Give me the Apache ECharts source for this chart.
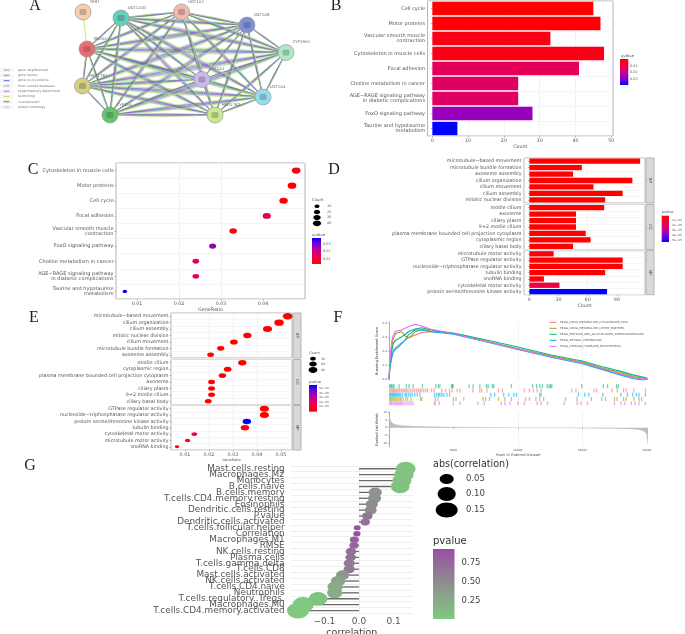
<!DOCTYPE html>
<html>
<head>
<meta charset="utf-8">
<style>
html,body{margin:0;padding:0;background:#fff}
#chart{width:685px;height:634px;filter:blur(0.7px)}
</style>
<script src="https://cdn.jsdelivr.net/npm/echarts@6/dist/echarts.min.js"></script>
</head>
<body>
<div id="chart"></div>
<script>
// ---------- Panel A: interaction network ----------
const nodeNames = ['TERT','UGT1A10','UGT1A7','UGT1A8','CYP19A1','UGT1A4','UGT1A1','HSD17B2','CYP3A4','HSD17B1','SRD5A1'];
const nodeX = [83,121,181.5,247,286,263,202,215,110,82.5,87];
const nodeY = [12,18,12,25,52.5,97,79.5,115,115,86,49];
const nodeColors = ['#f6cfae','#62d0ba','#f3b8b0','#7f8fd8','#aeeac8','#93deee','#cbb8ee','#c8ea8c','#62c46c','#d5d07e','#ef6b72'];
const evidenceNames = ['gene neighborhood','gene fusions','gene co-occurrence','from curated databases','experimentally determined','textmining','co-expression','protein homology'];
const evidenceLegendColors = ['#3cb44b','#e5484d','#4a4ae0','#38bcd4','#c040c0','#b8d84a','#555555','#a9a4e8'];
const edgeColors = ['#c4e07a','#8ad88a','#4a4ae0','#8a8a8a','#c040c0','#7a70e0','#5cc4a0','#c4e07a'];
const edgeBends = [-0.032,-0.023,-0.014,-0.005,0.005,0.014,0.023,0.032];

// ---------- Panel B / C: KEGG ----------
const bTerms = ['Cell cycle','Motor proteins','Vascular smooth muscle\ncontraction','Cytoskeleton in muscle cells','Focal adhesion','Choline metabolism in cancer','AGE−RAGE signaling pathway\nin diabetic complications','FoxO signaling pathway','Taurine and hypotaurine\nmetabolism'];
const bCounts = [45,47,33,48,41,24,24,28,7];
const bQ = [0.0005,0.001,0.003,0.003,0.012,0.013,0.013,0.023,0.034];
const bTicks = [0,10,20,30,40,50];

const cTerms = ['Cytoskeleton in muscle cells','Motor proteins','Cell cycle','Focal adhesion','Vascular smooth muscle\ncontraction','FoxO signaling pathway','Choline metabolism in cancer','AGE−RAGE signaling pathway\nin diabetic complications','Taurine and hypotaurine\nmetabolism'];
const cRatio = [0.0479,0.0469,0.0449,0.0409,0.0329,0.028,0.024,0.024,0.0071];
const cCount = [48,47,45,41,33,28,24,24,7];
const cQ = [0.003,0.001,0.0005,0.012,0.003,0.023,0.013,0.013,0.034];
const cTicks = [0.01,0.02,0.03,0.04];

// ---------- Panel D: GO bars ----------
const dTermsBP = ['microtubule−based movement','microtubule bundle formation','axoneme assembly','cilium organization','cilium movement','cilium assembly','mitotic nuclear division'];
const dCountBP = [114,54,45,106,66,96,78];
const dPBP = [1e-7,1e-7,1e-7,1e-7,1e-7,1e-7,1e-7];
const dTermsCC = ['motile cilium','axoneme','ciliary plasm','9+2 motile cilium','plasma membrane bounded cell projection cytoplasm','cytoplasmic region','ciliary basal body'];
const dCountCC = [77,48,48,48,58,63,45];
const dPCC = [1e-7,1e-7,1e-7,1e-7,1e-7,1e-7,1e-7];
const dTermsMF = ['microtubule motor activity','GTPase regulator activity','nucleoside−triphosphatase regulator activity','tubulin binding','snoRNA binding','cytoskeletal motor activity','protein serine/threonine kinase activity'];
const dCountMF = [25,96,96,78,15,31,80];
const dPMF = [2e-6,1e-7,1e-7,1e-7,2e-6,1.2e-5,5e-5];
const dTicks = [0,30,60,90];

// ---------- Panel E: GO dots ----------
const eTermsBP = ['microtubule−based movement','cilium organization','cilium assembly','mitotic nuclear division','cilium movement','microtubule bundle formation','axoneme assembly'];
const eRatioBP = [0.0528,0.0492,0.0444,0.036,0.0304,0.0249,0.0207];
const eCountBP = [114,106,96,78,66,54,45];
const ePBP = [1e-7,1e-7,1e-7,1e-7,1e-7,1e-7,1e-7];
const eTermsCC = ['motile cilium','cytoplasmic region','plasma membrane bounded cell projection cytoplasm','axoneme','ciliary plasm','9+2 motile cilium','ciliary basal body'];
const eRatioCC = [0.0339,0.0278,0.0256,0.0211,0.0211,0.0211,0.0197];
const eCountCC = [77,63,58,48,48,48,45];
const ePCC = [1e-7,1e-7,1e-7,1e-7,1e-7,1e-7,1e-7];
const eTermsMF = ['GTPase regulator activity','nucleoside−triphosphatase regulator activity','protein serine/threonine kinase activity','tubulin binding','cytoskeletal motor activity','microtubule motor activity','snoRNA binding'];
const eRatioMF = [0.0431,0.0431,0.0358,0.035,0.0139,0.0111,0.0067];
const eCountMF = [96,96,80,78,31,25,15];
const ePMF = [1e-7,1e-7,5e-5,1e-7,1.2e-5,2e-6,2e-6];
const eTicks = [0.01,0.02,0.03,0.04,0.05];

// ---------- Panel F: GSEA ----------
const fNames = ['KEGG_DRUG_METABOLISM_CYTOCHROME_P450','KEGG_DRUG_METABOLISM_OTHER_ENZYMES','KEGG_PENTOSE_AND_GLUCURONATE_INTERCONVERSIONS','KEGG_RETINOL_METABOLISM','KEGG_STEROID_HORMONE_BIOSYNTHESIS'];
const fColors = ['#F8766D','#A3A500','#00BF7D','#00B0F6','#E76BF3'];
const fRanks = [0,60,130,210,336,520,750,985,1250,1500,1760,2020,2540,3190,3830,5000,7500,10000,12500,15000,16500,18000,19000,19800,20100];
const fRed = [0,.07,.12,.16,.208,.225,.244,.262,.28,.297,.305,.316,.335,.34,.34,.325,.272,.216,.163,.116,.074,.036,.01,.004,.003];
const fOlive = [0,.09,.15,.23,.292,.328,.335,.34,.31,.297,.312,.34,.357,.347,.34,.327,.274,.22,.167,.122,.08,.045,.018,.003,.003];
const fGreen = [0,.08,.14,.2,.256,.28,.29,.304,.32,.34,.35,.359,.369,.354,.345,.33,.282,.23,.175,.13,.09,.055,.028,.012,.003];
const fBlue = [0,.07,.11,.15,.196,.215,.232,.255,.28,.316,.335,.352,.352,.34,.335,.323,.268,.212,.158,.11,.068,.028,.002,-.008,.003];
const fPurple = [0,.12,.2,.27,.316,.345,.348,.352,.365,.376,.385,.393,.381,.359,.347,.325,.27,.215,.162,.115,.075,.035,.01,.002,.003];
const rugRed = [60,150,240,330,420,520,610,700,820,950,1080,1180,1300,1420,1560,1700,1850,2000,2150,2300,2420,2560,2700,2850,3000,3300,3500,4100,4400,4700,4900,5300,5500,6500,7050,7200,7600,8500,8800,10500,10900,11200,11500,11800,14200,14500,15900,16100,17300,17700,18200,18400,19000,19900];
const rugOlive = [50,130,220,300,400,500,600,720,850,950,1100,1300,1450,1700,2450,2550,3600,3800,5000,5200,5800,7300,7500,7800,8500,9000,9500,10600,10900,11400,11700,12000,13700,14600,15700,16500,16800,17500,17700,18200,18400,19000,19400,19600];
const rugGreen = [50,130,210,310,390,780,1350,1550,1870,2590,3630,3830,3950,4850,4920,4970,6220,6530,7050,7560,7690,8030,8130,9500,11140,11450,11710,11910,12280,12430,12540,12640,14950,16630,16960,17660,17790];
const rugBlue = [50,120,200,280,370,440,530,620,700,800,900,1050,1250,1350,1500,1650,1800,2000,2200,2400,3550,3700,3850,3950,4100,4250,4500,4700,7900,8200,8900,9300,9700,9900,11700,11800,14700,15200,15500,16600,18000,18500,18900,19200,19400,19900];
const rugPurple = [60,140,220,320,420,520,600,700,800,900,1000,1100,1250,1400,1550,1700,1850,3500,3600,3900,5000,5500,6900,7400,8700,9000,9400,10000,10500,11500,11800,12300,13600,14600,14900,15400,17500,18000,18300,18800,19100,19400,19900];
const listRanks = [0,40,100,200,300,500,1000,2000,3000,6000,10000,15000,18000,19000,19500,19800,20000,20100];
const listValues = [10.4,7,5,3.2,2.5,1.9,1.3,0.8,0.6,0.2,0.02,-0.2,-0.5,-0.9,-1.3,-2.2,-4,-11];
const fTicks = [5000,10000,15000,20000];
const fScoreTicks = [0,0.1,0.2,0.3,0.4];
const fListTicks = [-10,-5,0,5,10];

// ---------- Panel G: immune correlation ----------
const gCells = ['Mast.cells.resting','Macrophages.M2','Monocytes','B.cells.naive','B.cells.memory','T.cells.CD4.memory.resting','Eosinophils','Dendritic.cells.resting','P.value','Dendritic.cells.activated','T.cells.follicular.helper','Correlation','Macrophages.M1','RMSE','NK.cells.resting','Plasma.cells','T.cells.gamma.delta','T.cells.CD8','Mast.cells.activated','NK.cells.activated','T.cells.CD4.naive','Neutrophils','T.cells.regulatory..Tregs.','Macrophages.M0','T.cells.CD4.memory.activated'];
const gCorr = [0.135,0.13,0.124,0.119,0.047,0.045,0.037,0.034,0.024,0.018,-0.005,-0.006,-0.0135,-0.0145,-0.023,-0.024,-0.028,-0.028,-0.047,-0.06,-0.069,-0.07,-0.118,-0.161,-0.176];
const gP = [0.03,0.04,0.05,0.06,0.45,0.47,0.53,0.55,0.7,0.75,0.97,0.96,0.85,0.84,0.75,0.74,0.67,0.66,0.45,0.33,0.26,0.25,0.06,0.01,0.005];
const gTicks = [-0.1,0,0.1];

// ---------- helpers ----------
const FONT = '"DejaVu Sans"';
const GREY = '#555';
const redBlue = ['#ff0000','#f60030','#e60055','#c80090','#9a00b8','#6000e0','#0000ff'];
const blueRed = redBlue.slice().reverse();
const grids=[], xAxes=[], yAxes=[], series=[], visualMaps=[], gfx=[];

function addGrid(l,t,r,b,show,border){
  grids.push({left:l,top:t,width:r-l,height:b-t,show:!!show,borderColor:border||'#b4b4b4',borderWidth:show?1:0,backgroundColor:'transparent',containLabel:false,outerBoundsMode:'none'});
  return grids.length-1;
}
function valueX(gi,min,max,ticks,o){
  o=o||{};
  xAxes.push(Object.assign({gridIndex:gi,type:'value',min:min,max:max,
    axisLine:{show:false},
    axisTick:{show:!o.hideLabels,length:1.5,lineStyle:{color:'#888',width:0.6},customValues:ticks},
    axisLabel:{show:!o.hideLabels,fontFamily:FONT,fontSize:o.fs||4.8,color:GREY,margin:o.margin||2.5,customValues:ticks,showMinLabel:true,showMaxLabel:true,
      formatter:o.fmt||(v=>String(v))},
    splitLine:{show:true,lineStyle:{color:'#ededed',width:0.7},customValues:ticks,showMinLine:false,showMaxLine:false},
    name:o.name||'',nameLocation:'middle',nameGap:o.nameGap||9,nameTextStyle:{fontFamily:FONT,fontSize:o.nameFs||4.8,color:GREY}
  },o.extra||{}));
  return xAxes.length-1;
}
function catY(gi,cats,o){
  o=o||{};
  yAxes.push({gridIndex:gi,type:'category',data:cats,inverse:true,
    axisLine:{show:false},
    axisTick:{show:!o.hideTick,alignWithLabel:true,length:1.5,lineStyle:{color:'#888',width:0.6}},
    axisLabel:{interval:0,fontFamily:FONT,fontSize:o.fs||4.8,color:o.color||GREY,margin:o.margin||2.5,lineHeight:o.lh||5.2},
    splitLine:{show:true,interval:0,lineStyle:{color:'#f1f1f1',width:0.7}}});
  return yAxes.length-1;
}
function txt(x,y,text,o){
  o=o||{};
  gfx.push({type:'text',x:x,y:y,rotation:o.rot||0,silent:true,z:50,
    style:{text:text,fill:o.color||GREY,fontSize:o.fs||4,fontFamily:o.family||FONT,align:o.align||'left',verticalAlign:'middle'}});
}
function colorBar(l,t,r,b,stops){
  gfx.push({type:'rect',shape:{x:l,y:t,width:r-l,height:b-t},silent:true,z:50,
    style:{fill:{type:'linear',x:0,y:0,x2:0,y2:1,colorStops:stops.map((c,i)=>({offset:i/(stops.length-1),color:c}))}}});
}
function dot(cx,cy,rx,ry,fill){
  gfx.push({type:'ellipse',shape:{cx:cx,cy:cy,rx:rx,ry:ry},silent:true,z:50,style:{fill:fill||'#000'}});
}
function strip(l,t,r,b,label){
  gfx.push({type:'rect',shape:{x:l,y:t,width:r-l,height:b-t},silent:true,z:40,style:{fill:'#d9d9d9',stroke:'#b4b4b4',lineWidth:1}});
  txt((l+r)/2,(t+b)/2,label,{rot:-Math.PI/2,align:'center',fs:4.2,color:'#444'});
}

// ---------- panel letters ----------
[['A',35,6],['B',336,6],['C',33,170],['D',334,170],['E',34,318],['F',338,318],['G',30,466]].forEach(p=>
  txt(p[1],p[2],p[0],{family:'"Liberation Serif"',fs:16,align:'center',color:'#222'}));

// ---------- A ----------
(function(){
  const gi=addGrid(0,0,340,160,false);
  xAxes.push({gridIndex:gi,type:'value',min:0,max:340,show:false});
  yAxes.push({gridIndex:gi,type:'value',min:0,max:160,inverse:true,show:false});
  const ax=xAxes.length-1, ay=yAxes.length-1;
  const links=[{source:0,target:10,lineStyle:{color:'#c6e07a',width:0.9,curveness:0,opacity:1}}];
  edgeColors.forEach((c,k)=>{
    for(let i=1;i<nodeNames.length;i++) for(let j=i+1;j<nodeNames.length;j++)
      links.push({source:i,target:j,lineStyle:{color:c,width:0.75,curveness:edgeBends[k],opacity:k===2?0.8:0.75}});
  });
  series.push({type:'graph',coordinateSystem:'cartesian2d',xAxisIndex:ax,yAxisIndex:ay,layout:'none',silent:true,z:2,
    symbol:'circle',symbolSize:16,edgeSymbol:['none','none'],
    data:nodeNames.map((n,i)=>({name:n,value:[nodeX[i],nodeY[i]],itemStyle:{color:nodeColors[i],borderColor:'#9a9a9a',borderWidth:0.7}})),
    links:links,
    label:{show:true,position:[15,-4],fontFamily:FONT,fontSize:3.9,color:'#666',formatter:'{b}'}});
  series.push({type:'scatter',xAxisIndex:ax,yAxisIndex:ay,silent:true,z:3,symbol:'roundRect',symbolSize:[7,6],
    itemStyle:{color:'rgba(60,60,60,0.28)',opacity:1},data:nodeX.map((x,i)=>[x,nodeY[i]])});
  evidenceNames.forEach((n,i)=>{
    const y=70+i*5.3;
    gfx.push({type:'rect',shape:{x:0,y:y-1.2,width:13,height:2.4,r:1.2},silent:true,z:50,style:{fill:'#fff',stroke:'#ddd',lineWidth:0.5}});
    gfx.push({type:'line',shape:{x1:3.5,y1:y,x2:9.5,y2:y},silent:true,z:51,style:{stroke:evidenceLegendColors[i],lineWidth:0.8}});
    txt(18,y,n,{fs:3.1,color:'#777'});
  });
})();

// ---------- B ----------
(function(){
  const gi=addGrid(427.5,1,613,136,true);
  const ax=valueX(gi,-1.35,50.5,bTicks,{name:'Count',nameGap:8.5});
  const ay=catY(gi,bTerms,{fs:5});
  series.push({type:'bar',xAxisIndex:ax,yAxisIndex:ay,barWidth:13.3,silent:true,encode:{x:0,y:1},
    data:bTerms.map((t,i)=>[bCounts[i],t,bQ[i]])});
  visualMaps.push({show:false,seriesIndex:series.length-1,dimension:2,min:0.0005,max:0.034,inRange:{color:redBlue}});
  txt(621,55.5,'qvalue',{fs:3.9});
  colorBar(620,59,628.3,85,redBlue);
  [['0.01',65.7],['0.02',72],['0.03',79.3]].forEach(a=>txt(630,a[1],a[0],{fs:3.4}));
})();

// ---------- C ----------
(function(){
  const gi=addGrid(116,163,305,299,true);
  const ax=valueX(gi,0.005,0.05,cTicks,{name:'GeneRatio',nameGap:6.5,fmt:v=>v.toFixed(2),extra:{}});
  const ay=catY(gi,cTerms,{fs:5});
  series.push({type:'scatter',xAxisIndex:ax,yAxisIndex:ay,silent:true,z:4,encode:{x:0,y:1},itemStyle:{opacity:1},
    symbolSize:v=>{const w=1.8+1.0*Math.sqrt(v[2]);return [w,w*0.72];},
    data:cTerms.map((t,i)=>[cRatio[i],t,cCount[i],cQ[i]])});
  visualMaps.push({show:false,seriesIndex:series.length-1,dimension:3,min:0.0005,max:0.034,inRange:{color:redBlue}});
  txt(312,200,'Count',{fs:3.9});
  [[206.3,10],[212,20],[217.5,30],[223.3,40]].forEach(a=>{const w=1.8+Math.sqrt(a[1]);dot(317,a[0],w/2,w*0.36);txt(327,a[0],String(a[1]),{fs:3.4});});
  txt(312,235,'qvalue',{fs:3.9});
  colorBar(312,238,321,264,blueRed);
  [['0.03',244],['0.02',251],['0.01',258.7]].forEach(a=>txt(323,a[1],a[0],{fs:3.4}));
})();

// ---------- D ----------
(function(){
  const rows=[[158,203,dTermsBP,dCountBP,dPBP,'BP'],[204.5,249.5,dTermsCC,dCountCC,dPCC,'CC'],[250.7,294.7,dTermsMF,dCountMF,dPMF,'MF']];
  const idx=[];
  rows.forEach((r,i)=>{
    const gi=addGrid(524,r[0],645,r[1],true);
    const ax=valueX(gi,-5.5,119,dTicks,i===2?{name:'Count',nameGap:8.5}:{hideLabels:true});
    const ay=catY(gi,r[2]);
    series.push({type:'bar',xAxisIndex:ax,yAxisIndex:ay,barWidth:5.3,silent:true,encode:{x:0,y:1},
      data:r[2].map((t,k)=>[r[3][k],t,r[4][k]])});
    idx.push(series.length-1);
    strip(646,r[0],654,r[1],r[5]);
  });
  visualMaps.push({show:false,seriesIndex:idx,dimension:2,min:0,max:5e-5,inRange:{color:redBlue}});
  txt(661.7,212,'pvalue',{fs:3.5});
  colorBar(661.7,215.7,669,242,redBlue);
  [['1e−05',220.7],['2e−05',225.6],['3e−05',230.7],['4e−05',235.3],['5e−05',240]].forEach(a=>txt(672,a[1],a[0],{fs:2.9}));
})();

// ---------- E ----------
(function(){
  const rows=[[313,358,eTermsBP,eRatioBP,eCountBP,ePBP,'BP'],[359.5,404.5,eTermsCC,eRatioCC,eCountCC,ePCC,'CC'],[405.5,450,eTermsMF,eRatioMF,eCountMF,ePMF,'MF']];
  const idx=[];
  rows.forEach((r,i)=>{
    const gi=addGrid(171,r[0],292,r[1],true);
    const ax=valueX(gi,0.0042,0.0546,eTicks,i===2?{name:'GeneRatio',nameGap:7,nameFs:3.5,fmt:v=>v.toFixed(2)}:{hideLabels:true});
    const ay=catY(gi,r[2]);
    series.push({type:'scatter',xAxisIndex:ax,yAxisIndex:ay,silent:true,z:4,encode:{x:0,y:1},itemStyle:{opacity:1},
      symbolSize:v=>{const w=1.5+0.78*Math.sqrt(v[2]);return [w,w*0.65];},
      data:r[2].map((t,k)=>[r[3][k],t,r[4][k],r[5][k]])});
    idx.push(series.length-1);
    strip(293,r[0],301,r[1],r[6]);
  });
  visualMaps.push({show:false,seriesIndex:idx,dimension:3,min:0,max:5e-5,inRange:{color:redBlue}});
  txt(309,353,'Count',{fs:3.7});
  [[358.7,30],[364,60],[370,90]].forEach(a=>{const w=1.5+0.78*Math.sqrt(a[1]);dot(313,a[0],w/2,w*0.325);txt(321,a[0],String(a[1]),{fs:3.1});});
  txt(309,382,'pvalue',{fs:3.5});
  colorBar(309,385,317,411.7,blueRed);
  [['5e−05',388],['4e−05',393],['3e−05',397.6],['2e−05',402],['1e−05',406.5]].forEach(a=>txt(319,a[1],a[0],{fs:2.9}));
})();

// ---------- F ----------
(function(){
  const XMAX=20100, l=389, r=648;
  const g1=addGrid(l,322,r,380,false);
  const g2=addGrid(l,384,r,405.5,false);
  const g3=addGrid(l,411.7,r,446.7,false);
  const ax1=valueX(g1,0,XMAX,fTicks,{hideLabels:true});
  const ax2=valueX(g2,0,XMAX,fTicks,{hideLabels:true});
  const ax3=valueX(g3,0,XMAX,fTicks,{fs:2.9,margin:2,name:'Rank in Ordered Dataset',nameFs:3.6,nameGap:6.5,extra:{}});
  function yVal(gi,min,max,ticks,name,fmt){
    yAxes.push({gridIndex:gi,type:'value',min:min,max:max,
      axisLine:{show:true,lineStyle:{color:'#777',width:0.6}},
      axisTick:{show:true,length:1.2,lineStyle:{color:'#888',width:0.5},customValues:ticks},
      axisLabel:{fontFamily:FONT,fontSize:2.9,color:GREY,margin:1.8,customValues:ticks,formatter:fmt},
      splitLine:{show:false},
      name:name,nameLocation:'middle',nameGap:9,nameRotate:90,nameTextStyle:{fontFamily:FONT,fontSize:3.6,color:'#444'}});
    return yAxes.length-1;
  }
  const ay1=yVal(g1,-0.007,0.41,fScoreTicks,'Running Enrichment Score',v=>v.toFixed(1));
  [fRed,fOlive,fGreen,fBlue,fPurple].forEach((vals,i)=>{
    series.push({type:'line',xAxisIndex:ax1,yAxisIndex:ay1,silent:true,symbol:'none',z:3+i,
      lineStyle:{color:fColors[i],width:1.1},data:fRanks.map((x,k)=>[x,vals[k]])});
  });
  // rug
  const rugRows=['g','r','b','o','p'];
  yAxes.push({gridIndex:g2,type:'category',data:rugRows,inverse:true,show:false});
  const ay2=yAxes.length-1;
  [[rugGreen,fColors[2],'g'],[rugRed,fColors[0],'r'],[rugBlue,fColors[3],'b'],[rugOlive,fColors[1],'o'],[rugPurple,fColors[4],'p']].forEach(a=>{
    series.push({type:'scatter',xAxisIndex:ax2,yAxisIndex:ay2,silent:true,symbol:'rect',symbolSize:[1.3,4],
      itemStyle:{color:a[1],opacity:0.6},data:a[0].map(x=>[x,a[2]])});
  });
  // ranked list
  const ay3=yVal(g3,-12.4,10.4,fListTicks,'Ranked List Metric',v=>String(v));
  series.push({type:'line',xAxisIndex:ax3,yAxisIndex:ay3,silent:true,symbol:'none',
    lineStyle:{width:0.4,color:'#b5b5b5'},areaStyle:{color:'#bdbdbd',opacity:1},data:listRanks.map((x,k)=>[x,listValues[k]])});
  // legend
  fNames.forEach((n,i)=>{
    const y=305+(52+i*18)/3;
    gfx.push({type:'line',shape:{x1:549.5,y1:y,x2:556.5,y2:y},silent:true,z:50,style:{stroke:fColors[i],lineWidth:1}});
    txt(560,y,n,{fs:2.85,color:'#555'});
  });
})();

// ---------- G ----------
(function(){
  const gi=addGrid(290.7,465.8,413,613.5,false);
  const ax=valueX(gi,-0.197,0.156,gTicks,{fs:9,margin:3.5,name:'correlation',nameFs:9.5,nameGap:14.5,fmt:v=>v===0?'0.0':String(v).replace('-','−'),
    extra:{}});
  xAxes[ax].axisTick.show=false;
  xAxes[ax].axisLabel.color='#555';
  xAxes[ax].nameTextStyle.color='#444';
  xAxes[ax].splitLine.lineStyle={color:'#ececec',width:1};
  const ay=catY(gi,gCells,{fs:8.9,margin:6,hideTick:true,lh:9});
  yAxes[ay].splitLine.lineStyle={color:'#efefef',width:1};
  series.push({type:'bar',xAxisIndex:ax,yAxisIndex:ay,barWidth:1.3,silent:true,z:3,itemStyle:{color:'#6a6a6a'},
    encode:{x:0,y:1},data:gCells.map((c,i)=>[gCorr[i],c])});
  series.push({type:'scatter',xAxisIndex:ax,yAxisIndex:ay,silent:true,z:5,clip:true,encode:{x:0,y:1},itemStyle:{opacity:1},
    symbolSize:v=>{const w=4+18*Math.sqrt(Math.abs(v[0])/0.176);return [w,w*0.72];},
    data:gCells.map((c,i)=>[gCorr[i],c,gP[i]])});
  visualMaps.push({show:false,seriesIndex:series.length-1,dimension:2,min:0,max:1,inRange:{color:['#7FC97F','#8f8f8f','#984EA3']}});
  txt(433,464,'abs(correlation)',{fs:9.6,color:'#333'});
  [[479,7,5,'0.05'],[494,9,7,'0.10'],[510,11,7.5,'0.15']].forEach(a=>{dot(446.7,a[0],a[1],a[2]);txt(466,a[0],a[3],{fs:8.5,color:'#444'});});
  txt(433,541,'pvalue',{fs:10,color:'#333'});
  colorBar(433,549,454.5,619,['#984EA3','#8f8f8f','#7FC97F']);
  [['0.75',562.7],['0.50',581.7],['0.25',600.7]].forEach(a=>txt(461.6,a[1],a[0],{fs:8.5,color:'#444'}));
})();

const chart=echarts.init(document.getElementById('chart'),null,{renderer:'canvas'});
chart.setOption({
  animation:false,
  backgroundColor:'#fff',
  grid:grids,xAxis:xAxes,yAxis:yAxes,series:series,visualMap:visualMaps,
  graphic:{elements:gfx}
});
</script>
</body>
</html>
